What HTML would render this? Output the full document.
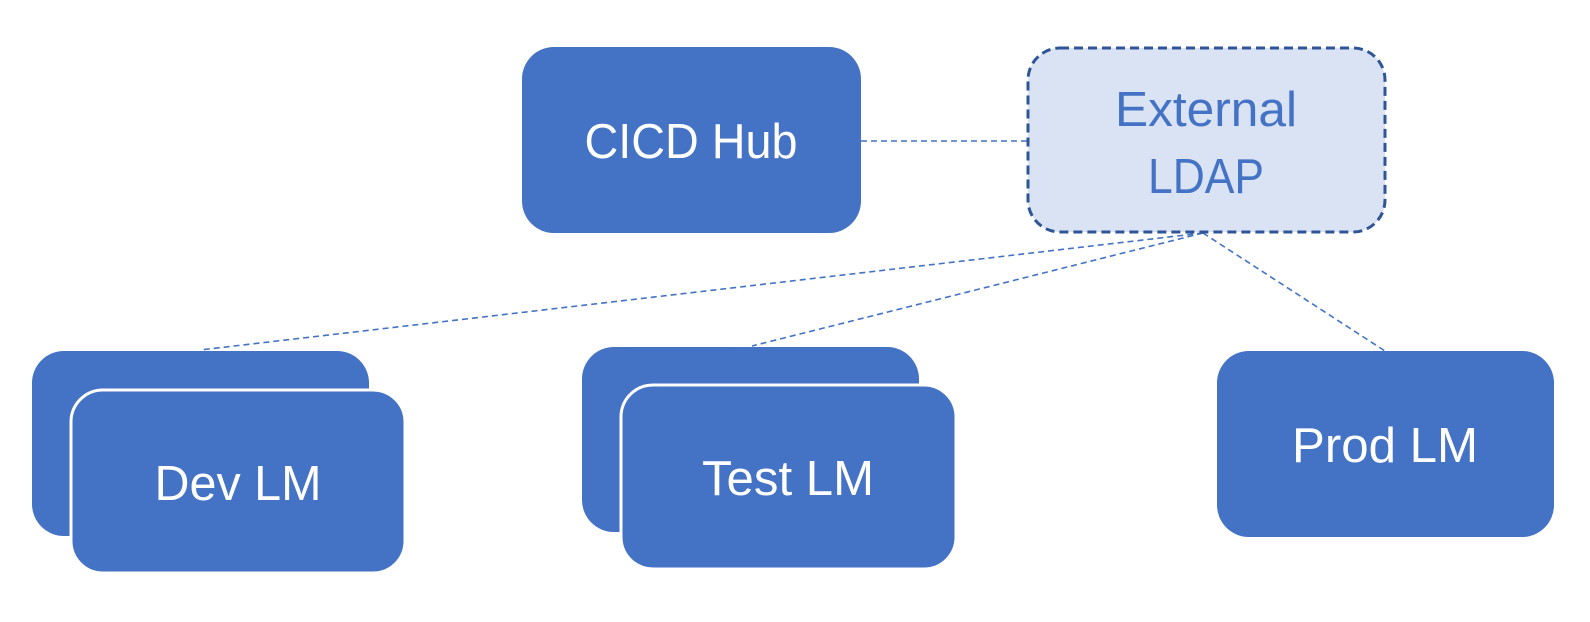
<!DOCTYPE html>
<html><head><meta charset="utf-8"><style>
html,body{margin:0;padding:0;background:#fff;width:1590px;height:622px;overflow:hidden}
svg text{font-family:"Liberation Sans",sans-serif;font-size:49px;text-anchor:middle}
</style></head><body>
<svg width="1590" height="622" viewBox="0 0 1590 622" xmlns="http://www.w3.org/2000/svg">
<g stroke="#4472C4" stroke-width="1.6" stroke-dasharray="6,4" fill="none">
<line x1="861" y1="141" x2="1028" y2="141"/>
<line x1="1203" y1="233" x2="200" y2="350"/>
<line x1="1203" y1="233" x2="752" y2="346"/>
<line x1="1203" y1="233" x2="1385" y2="351"/>
</g>
<rect x="522" y="47" width="339" height="186" rx="32" fill="#4472C4"/>
<text x="691" y="158" fill="#fff" textLength="213" lengthAdjust="spacingAndGlyphs">CICD Hub</text>
<rect x="1028" y="48" width="357" height="184" rx="32" fill="#DAE3F3" stroke="#2F5597" stroke-width="3" stroke-dasharray="9,5"/>
<text x="1206" y="126" fill="#4472C4" textLength="182" lengthAdjust="spacingAndGlyphs">External</text>
<text x="1206" y="193" fill="#4472C4" textLength="116" lengthAdjust="spacingAndGlyphs">LDAP</text>
<rect x="32" y="351" width="337" height="185" rx="32" fill="#4472C4"/>
<rect x="71" y="390" width="334" height="183" rx="32" fill="#4472C4" stroke="#fff" stroke-width="3"/>
<text x="238" y="500" fill="#fff" textLength="167" lengthAdjust="spacingAndGlyphs">Dev LM</text>
<rect x="582" y="347" width="337" height="185" rx="32" fill="#4472C4"/>
<rect x="621" y="385" width="335" height="184" rx="32" fill="#4472C4" stroke="#fff" stroke-width="3"/>
<text x="788" y="495" fill="#fff" textLength="172" lengthAdjust="spacingAndGlyphs">Test LM</text>
<rect x="1217" y="351" width="337" height="186" rx="32" fill="#4472C4"/>
<text x="1385" y="462" fill="#fff" textLength="186" lengthAdjust="spacingAndGlyphs">Prod LM</text>
</svg>
</body></html>
